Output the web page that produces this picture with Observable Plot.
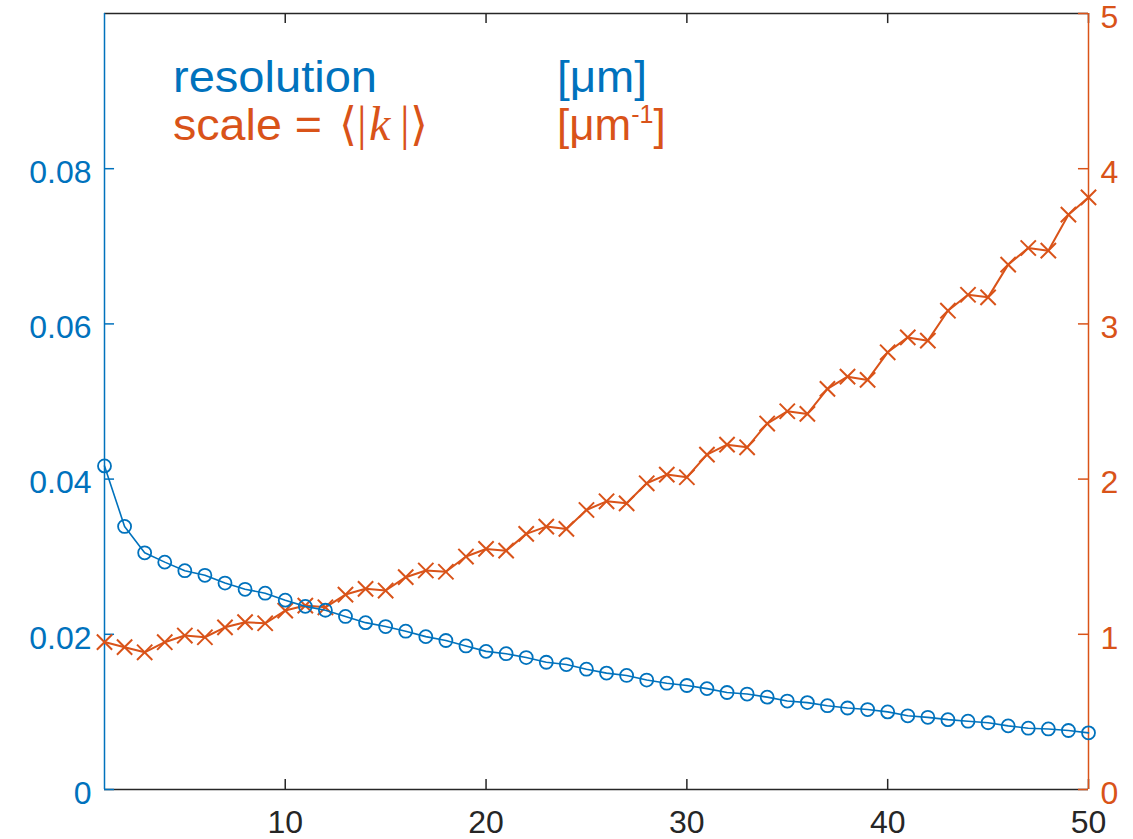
<!DOCTYPE html>
<html>
<head>
<meta charset="utf-8">
<script src="https://cdn.jsdelivr.net/npm/d3@7"></script>
<script src="https://cdn.jsdelivr.net/npm/@observablehq/plot@0.6"></script>
<style>
  html, body { margin: 0; padding: 0; background: #fff; }
</style>
</head>
<body>
<div id="chart"></div>
<script>
const iterations = [1,2,3,4,5,6,7,8,9,10,11,12,13,14,15,16,17,18,19,20,21,22,23,24,25,26,27,28,29,30,31,32,33,34,35,36,37,38,39,40,41,42,43,44,45,46,47,48,49,50];
const resolution = [0.0417,0.0339,0.0305,0.0293,0.0282,0.0276,0.0266,0.0258,0.0253,0.0244,0.0236,0.0231,0.0223,0.0215,0.0210,0.0204,0.0197,0.0192,0.0185,0.0178,0.0175,0.0170,0.0164,0.0161,0.0155,0.0150,0.0147,0.0141,0.0137,0.0134,0.0130,0.0125,0.0123,0.0119,0.0114,0.0112,0.0108,0.0105,0.0103,0.0100,0.0095,0.0093,0.0090,0.0088,0.0086,0.0082,0.0079,0.0078,0.0076,0.0073];
const scaleK = [0.950,0.917,0.884,0.949,0.992,0.981,1.045,1.078,1.071,1.153,1.185,1.174,1.256,1.293,1.282,1.368,1.411,1.403,1.501,1.550,1.539,1.647,1.694,1.679,1.801,1.857,1.844,1.973,2.029,2.012,2.158,2.222,2.205,2.358,2.437,2.420,2.581,2.660,2.639,2.817,2.913,2.892,3.085,3.188,3.171,3.382,3.489,3.472,3.704,3.815];

const xTicks = [10,20,30,40,50];
const xTickLabels = ["10","20","30","40","50"];
const leftTicks = [0,0.02,0.04,0.06,0.08];
const leftTickLabels = ["0","0.02","0.04","0.06","0.08"];
const rightTicks = [0,1,2,3,4,5];
const rightTickLabels = ["0","1","2","3","4","5"];
const leftDomain = [0, 0.1];
const rightDomain = [0, 5];
const xDomain = [1, 50];

const BLUE = "#0072BD";
const ORANGE = "#D95319";
const AXIS = "#262626";

const ratio = leftDomain[1] / rightDomain[1];
const resData = iterations.map((x, i) => ({x, y: resolution[i]}));
const sclData = iterations.map((x, i) => ({x, y: scaleK[i] * ratio}));
const rightTickPos = rightTicks.map(t => t * ratio);

const chart = Plot.plot({
  width: 1133,
  height: 839,
  marginLeft: 104,
  marginRight: 45,
  marginTop: 13,
  marginBottom: 50,
  style: {fontFamily: "'Liberation Sans', Arial, Helvetica, sans-serif", background: "#fff"},
  x: {domain: xDomain},
  y: {domain: leftDomain},
  marks: [
    // frame
    Plot.ruleY([leftDomain[0]], {stroke: AXIS, strokeWidth: 1.5}),
    Plot.ruleY([leftDomain[1]], {stroke: AXIS, strokeWidth: 1.5}),
    // x ticks (inward, bottom and top)
    Plot.ruleX(xTicks, {x: d => d, y1: leftDomain[0], y2: leftDomain[0] + 0.0013, stroke: AXIS, strokeWidth: 1.5}),
    Plot.ruleX(xTicks, {x: d => d, y1: leftDomain[1], y2: leftDomain[1] - 0.0013, stroke: AXIS, strokeWidth: 1.5}),
    Plot.axisX(xTicks, {tickSize: 0, tickPadding: 21, fontSize: 32, fill: AXIS, label: null, tickFormat: (d, i) => xTickLabels[i]}),
    // left axis
    Plot.ruleX([xDomain[0]], {stroke: BLUE, strokeWidth: 1.5}),
    Plot.ruleY(leftTicks, {y: d => d, x1: xDomain[0], x2: xDomain[0] + 0.5, stroke: BLUE, strokeWidth: 1.5}),
    Plot.axisY(leftTicks, {anchor: "left", tickSize: 0, tickPadding: 13, fontSize: 32, fill: BLUE, label: null, dy: 4, tickFormat: (d, i) => leftTickLabels[i]}),
    // right axis
    Plot.ruleX([xDomain[1]], {stroke: ORANGE, strokeWidth: 1.5}),
    Plot.ruleY(rightTickPos, {y: d => d, x1: xDomain[1], x2: xDomain[1] - 0.5, stroke: ORANGE, strokeWidth: 1.5}),
    Plot.axisY(rightTickPos, {anchor: "right", tickSize: 0, tickPadding: 12, fontSize: 32, fill: ORANGE, label: null, dy: 4, tickFormat: (d, i) => rightTickLabels[i]}),
    // series
    Plot.line(sclData, {x: "x", y: "y", stroke: ORANGE, strokeWidth: 2}),
    Plot.dot(sclData, {x: "x", y: "y", symbol: "times", r: 7, stroke: ORANGE, strokeWidth: 2}),
    Plot.line(resData, {x: "x", y: "y", stroke: BLUE, strokeWidth: 1.6}),
    Plot.dot(resData, {x: "x", y: "y", symbol: "circle", r: 6.5, stroke: BLUE, fill: "none", strokeWidth: 1.8})
  ]
});

document.getElementById("chart").appendChild(chart);

// Annotation (legend-like text)
const svg = d3.select(chart);
const g = svg.append("g")
  .attr("font-family", "'Liberation Sans', Arial, Helvetica, sans-serif")
  .attr("text-anchor", "start");
g.append("text").attr("x", 173).attr("y", 92).attr("font-size", 44).attr("fill", BLUE)
  .attr("textLength", 204).attr("lengthAdjust", "spacingAndGlyphs").text("resolution");
g.append("text").attr("x", 557).attr("y", 92).attr("font-size", 44).attr("fill", BLUE)
  .attr("textLength", 90).attr("lengthAdjust", "spacingAndGlyphs").text("[μm]");
g.append("text").attr("x", 173).attr("y", 140).attr("font-size", 44).attr("fill", ORANGE)
  .attr("textLength", 149).attr("lengthAdjust", "spacingAndGlyphs").text("scale =");
const math = g.append("text").attr("y", 140).attr("fill", ORANGE);
math.append("tspan").attr("x", 339).attr("font-family", "'DejaVu Sans', 'Noto Sans', sans-serif").attr("font-size", 46).text("⟨");
math.append("tspan").attr("x", 357).attr("font-family", "'Liberation Serif', 'DejaVu Serif', serif").attr("font-size", 48).text("|");
math.append("tspan").attr("x", 369).attr("font-family", "'Liberation Serif', 'DejaVu Serif', serif").attr("font-style", "italic").attr("font-size", 48).text("k");
math.append("tspan").attr("x", 400).attr("font-family", "'Liberation Serif', 'DejaVu Serif', serif").attr("font-size", 48).text("|");
math.append("tspan").attr("x", 410).attr("font-family", "'DejaVu Sans', 'Noto Sans', sans-serif").attr("font-size", 46).text("⟩");
const unit2 = g.append("text").attr("x", 557).attr("y", 140).attr("font-size", 44).attr("fill", ORANGE);
unit2.append("tspan").text("[μm");
unit2.append("tspan").attr("font-size", 25).attr("dy", -17).text("-1");
unit2.append("tspan").attr("dy", 17).text("]");
</script>
</body>
</html>
